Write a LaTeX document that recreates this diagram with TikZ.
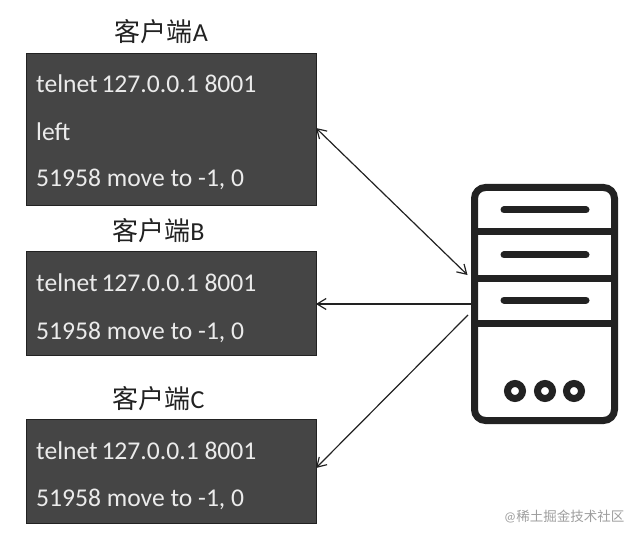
\documentclass[tikz,border=0pt]{standalone}
\usepackage{fontspec}
\setmainfont{Carlito}
\newfontfamily\cjk{Noto Sans CJK SC}
\usetikzlibrary{arrows.meta}
\definecolor{boxfill}{HTML}{454545}
\definecolor{ink}{HTML}{222222}
\tikzset{
  x=1pt,y=-1pt,
  client/.style={draw=ink,line width=0.8pt,fill=boxfill,minimum width=290pt,inner sep=0pt,outer sep=0pt},
  term/.style={anchor=base west,text=white!92!black,font=\fontsize{25.6}{26}\selectfont,inner sep=0pt},
  title/.style={anchor=base,text=ink,inner sep=0pt,font=\fontsize{26}{27}\selectfont},
  srv/.style={line width=7pt,draw=ink},
  bar/.style={line width=7pt,draw=ink,line cap=round},
  dot/.style={circle,draw=ink,line width=7pt,minimum size=15pt,inner sep=0pt,fill=white},
  link/.style={line width=1.2pt,draw=ink},
  tip/.style={-{Straight Barb[length=9pt,width=11pt,line width=1.2pt]}},
  tips/.style={{Straight Barb[length=9pt,width=11pt,line width=1.2pt]}-{Straight Barb[length=9pt,width=11pt,line width=1.2pt]}},
}
\begin{document}
\begin{tikzpicture}
\useasboundingbox (0,0) rectangle (640,540);
% client boxes
\node[client,minimum height=152pt,anchor=north west] (a) at (26,53) {};
\node[client,minimum height=104pt,anchor=north west] (b) at (26,251) {};
\node[client,minimum height=104pt,anchor=north west] (c) at (26,419) {};
% titles
\node[title] (ta) at (161.5,42) {{\cjk 客户端}A};
\node[title] (tb) at (158.5,241) {{\cjk 客户端}B};
\node[title] (tc) at (158.5,408) {{\cjk 客户端}C};
% texts
\node[term] (a1) at (36,93) {telnet\hspace{-2pt} 127.0.0.1 8001};
\node[term] (a2) at (36,141) {left};
\node[term] (a3) at (36,187) {51958 move to -1, 0};
\node[term] (b1) at (36,291) {telnet\hspace{-2pt} 127.0.0.1 8001};
\node[term] (b2) at (36,339) {51958 move to -1, 0};
\node[term] (c1) at (36,459) {telnet\hspace{-2pt} 127.0.0.1 8001};
\node[term] (c2) at (36,506) {51958 move to -1, 0};
% server
\node[srv,rounded corners=11pt,minimum width=140pt,minimum height=233pt,inner sep=0pt,outer sep=0pt,anchor=north west] (srv) at (474.5,187.5) {};
\draw[srv] (474.5,232) -- (614.5,232);
\draw[srv] (474.5,278) -- (614.5,278);
\draw[srv] (474.5,323) -- (614.5,323);
\draw[bar] (504,210) -- (586,210);
\draw[bar] (504,255) -- (586,255);
\draw[bar] (504,300) -- (586,300);
\node[dot] (d1) at (515,391) {};
\node[dot] (d2) at (545,391) {};
\node[dot] (d3) at (574,391) {};
% connectors
\coordinate (pa) at (316,128);
\coordinate (sa) at (467.5,275);
\coordinate (pb) at (316,304);
\coordinate (sb) at (471,304);
\coordinate (pc) at (316,468);
\coordinate (sc) at (468,315);
\draw[link,tips] (pa) -- (sa);
\draw[link,tip] (sb) -- (pb);
\draw[link,tip] (sc) -- (pc);
% watermark
\node[anchor=base west,inner sep=0pt,text=black!38,font=\fontsize{13.5}{14}\selectfont] (wm) at (504,521) {@{\cjk 稀土掘金技术社区}};
\end{tikzpicture}
\end{document}
